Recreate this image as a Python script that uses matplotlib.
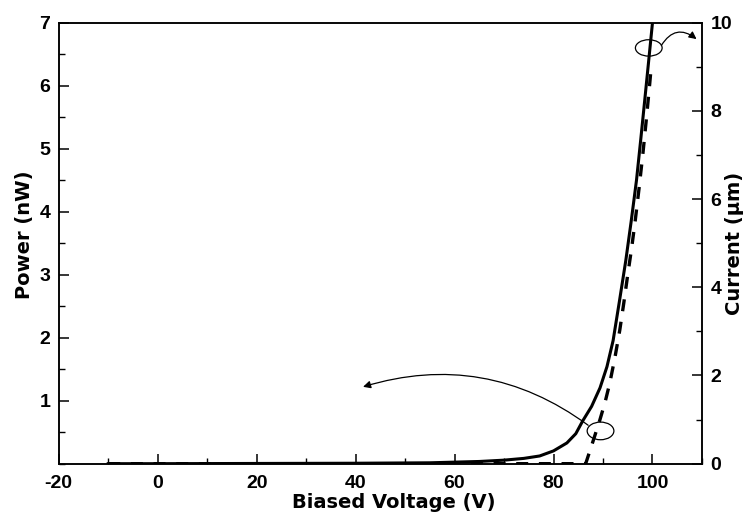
import matplotlib
matplotlib.use('Agg')
import matplotlib.pyplot as plt
from matplotlib.patches import Ellipse
from matplotlib.ticker import MultipleLocator

# ========== DATA ==========
# solid curve, right axis
voltage_cur = [-10, 0, 20, 40, 55, 65, 70, 74, 77.2, 80, 82.7, 84.5, 85.9, 87.7, 89.4,
               90.8, 92.04, 93.3, 94.61, 95.7, 96.77, 97.6, 98.44, 99.2, 100]
current = [0.0, 0.0, 0.005, 0.01, 0.02, 0.05, 0.08, 0.12, 0.175, 0.29, 0.47, 0.68, 0.97, 1.3, 1.72,
           2.2, 2.79, 3.67, 4.61, 5.5, 6.43, 7.32, 8.25, 9.1, 10.0]

# dashed curve, left axis
voltage_pow = [-10, 0, 20, 40, 60, 80, 86.5, 88.0, 89.35, 90.4, 91.37, 92.4, 93.39, 94.2, 95.0,
               95.8, 96.5, 97.3, 98.1, 98.8, 99.45, 99.8]
power = [0, 0, 0, 0, 0, 0, 0, 0.36, 0.69, 0.97, 1.28, 1.68, 2.12, 2.55, 3.0,
         3.43, 3.85, 4.38, 4.95, 5.5, 6.04, 6.35]

x_ticks = [-20, 0, 20, 40, 60, 80, 100]
left_ticks = [1, 2, 3, 4, 5, 6, 7]
right_ticks = [0, 2, 4, 6, 8, 10]
# ==========================

plt.rcParams['font.family'] = ['Liberation Sans', 'DejaVu Sans']
plt.rcParams['font.weight'] = 'bold'
plt.rcParams['axes.linewidth'] = 1.1
plt.rcParams['axes.unicode_minus'] = False

fig = plt.figure(figsize=(7.49, 5.14), dpi=100)
ax1 = fig.add_axes([0.0784, 0.0979, 0.8588, 0.8579])
ax2 = ax1.twinx()

ax1.plot(voltage_pow, power, color='black', lw=2.4, dashes=(3.6, 3.2))
ax2.plot(voltage_cur, current, color='black', lw=2.2)

ax1.set_xlim(-20, 110)
ax1.set_ylim(0, 7)
ax2.set_ylim(0, 10)

ax1.set_xticks(x_ticks)
ax1.xaxis.set_minor_locator(MultipleLocator(10))
ax1.set_yticks(left_ticks)
ax1.yaxis.set_minor_locator(MultipleLocator(0.5))
ax2.set_yticks(right_ticks)
ax2.yaxis.set_minor_locator(MultipleLocator(1))

for ax in (ax1, ax2):
    ax.tick_params(which='major', direction='in', length=7, width=1.1, labelsize=14, pad=6)
    ax.tick_params(which='minor', direction='in', length=4, width=1.0)
ax1.tick_params(top=False, which='both')
ax1.tick_params(axis='x', pad=8)

lab_font = dict(family='DejaVu Sans', fontsize=14, fontweight='bold')
ax1.set_xlabel('Biased Voltage (V)', **lab_font)
ax1.xaxis.set_label_coords(0.521, -0.067)
ax1.set_ylabel('Power (nW)', **lab_font)
ax1.yaxis.set_label_coords(-0.038, 0.52)
ax2.set_ylabel('Current (μm)', **lab_font)
ax2.yaxis.set_label_coords(1.036, 0.5)

# circles marking the curves
ax1.add_patch(Ellipse((99.25, 6.6), 5.4, 0.26, fill=False, lw=0.9, color='black', zorder=5))
ax1.add_patch(Ellipse((89.5, 0.52), 5.4, 0.28, fill=False, lw=0.9, color='black', zorder=5))

ax1.annotate('', xy=(108.9, 6.74), xytext=(101.8, 6.64),
             arrowprops=dict(arrowstyle='-|>', color='black', lw=0.9, mutation_scale=11,
                             connectionstyle='arc3,rad=-0.55', shrinkA=0, shrinkB=0))
ax1.annotate('', xy=(41.5, 1.22), xytext=(87.0, 0.61),
             arrowprops=dict(arrowstyle='-|>', color='black', lw=0.9, mutation_scale=11,
                             connectionstyle='arc3,rad=0.25', shrinkA=0, shrinkB=0))

fig.savefig('out.png', dpi=100)
